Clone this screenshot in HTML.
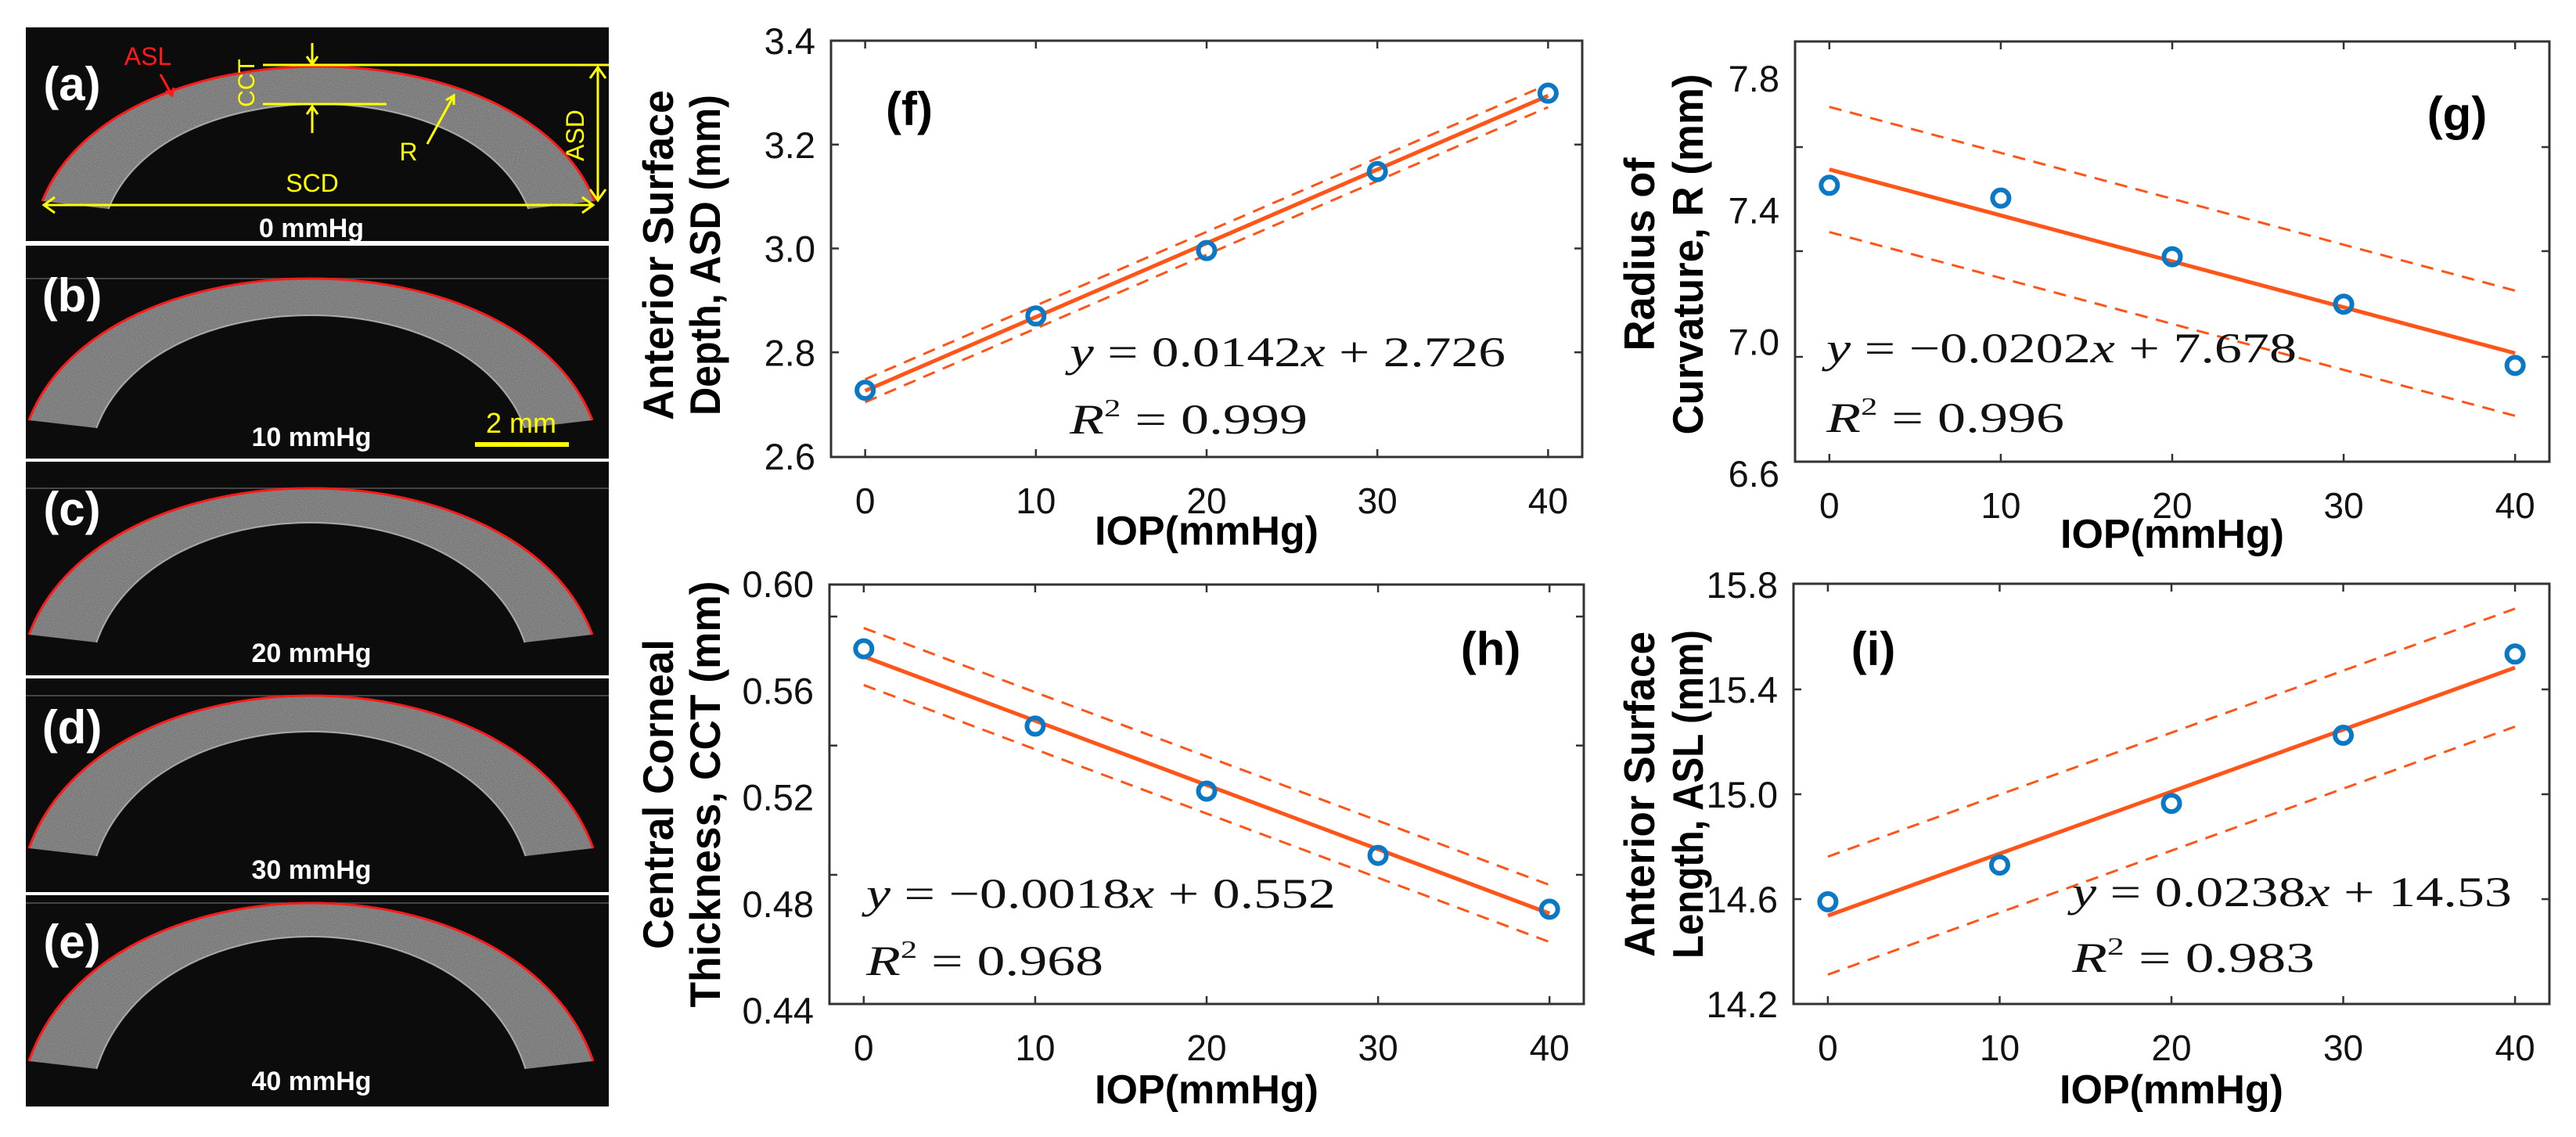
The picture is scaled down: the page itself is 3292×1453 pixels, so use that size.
<!DOCTYPE html>
<html><head><meta charset="utf-8">
<style>
html,body{margin:0;padding:0;background:#fff;}
svg{display:block;}
</style></head>
<body>
<svg id="fig" xmlns="http://www.w3.org/2000/svg" width="3292" height="1453" viewBox="0 0 3292 1453">
<defs>
<filter id="speck" x="0" y="0" width="100%" height="100%">
<feTurbulence type="fractalNoise" baseFrequency="0.9" numOctaves="1" seed="3" result="n"/>
<feColorMatrix in="n" type="matrix" values="0 0 0 0 0.55  0 0 0 0 0.55  0 0 0 0 0.55  0 0 0 1.6 -0.5" result="m"/>
<feComposite in="m" in2="SourceGraphic" operator="in"/>
</filter>
</defs>
<rect width="3292" height="1453" fill="#fff"/>
<g id="oct"></g>
<g id="charts"></g>
</svg>
<script>
// ---------- chart data ----------
const iopValues = [0, 10, 20, 30, 40];
const xTickLabels = ["0", "10", "20", "30", "40"];
const asdValues = [2.727, 2.870, 2.996, 3.148, 3.299];
const radiusValues = [7.475, 7.436, 7.258, 7.114, 6.928];
const cctValues = [0.5756, 0.5466, 0.5222, 0.4981, 0.4779];
const aslValues = [14.59, 14.73, 14.965, 15.225, 15.535];
const asdTickLabels = ["3.4", "3.2", "3.0", "2.8", "2.6"];
const radiusTickLabels = ["7.8", "7.4", "7.0", "6.6"];
const cctTickLabels = ["0.60", "0.56", "0.52", "0.48", "0.44"];
const aslTickLabels = ["15.8", "15.4", "15.0", "14.6", "14.2"];
const asdTickMarks = [3.2, 3.0, 2.8];
const radiusTickMarks = [7.591, 7.275, 6.954];
const cctTickMarks = [0.5877, 0.5393, 0.4908];
const aslTickMarks = [15.4, 15.0, 14.6];
// fit lines: [intercept, slope], band half-width
const asdFit = [2.726, 0.0142];
const radiusFit = [7.523, -0.01395];
const cctFit = [0.5727, -0.00241];
const aslFit = [14.537, 0.02365];
const asdBand = [0.022];
const radiusBand = [0.19];
const cctBand = [0.0107];
const aslBand = [0.225];

const NS = "http://www.w3.org/2000/svg";
function mk(tag, attrs, parent, txt) {
  const e = document.createElementNS(NS, tag);
  for (const k in attrs) e.setAttribute(k, attrs[k]);
  if (txt !== undefined) e.textContent = txt;
  parent.appendChild(e);
  return e;
}
const ORANGE = "#FF5519", BLUE = "#0A78C4", AX = "#333";

const panels = [
  {id:"f", L:1062, R:2022, T:52, B:584, v0:3.4, p0:52, v1:2.6, p1:583,
   vals:asdValues, labels:asdTickLabels, labVals:[3.4,3.2,3.0,2.8,2.6], ticks:asdTickMarks, fit:asdFit, band:asdBand,
   title:["Anterior Surface","Depth, ASD (mm)"], tx:[860,920], tlen:[422,410], tcy:326,
   tag:"(f)", tagX:1162, tagY:160, eq:"y = 0.0142x + 2.726", eqX:1367, eqY:468, eqW:557, r2:"0.999", r2Y:554, r2W:304, xlabY:696},
  {id:"g", L:2294, R:3258, T:53, B:590, v0:7.8, p0:100, v1:6.6, p1:605,
   vals:radiusValues, labels:radiusTickLabels, labVals:[7.8,7.4,7.0,6.6], ticks:radiusTickMarks, fit:radiusFit, band:radiusBand,
   title:["Radius of","Curvature, R (mm)"], tx:[2114,2176], tlen:[247,461], tcy:325,
   tag:"(g)", tagX:3140, tagY:166, eq:"y = \u22120.0202x + 7.678", eqX:2334, eqY:463, eqW:601, r2:"0.996", r2Y:552, r2W:304, xlabY:700},
  {id:"h", L:1060, R:2024, T:747, B:1283, v0:0.60, p0:746, v1:0.44, p1:1291,
   vals:cctValues, labels:cctTickLabels, labVals:[0.60,0.56,0.52,0.48,0.44], ticks:cctTickMarks, fit:cctFit, band:cctBand,
   title:["Central Corneal","Thickness, CCT (mm)"], tx:[860,920], tlen:[396,545], tcy:1015,
   tag:"(h)", tagX:1905, tagY:850, eq:"y = \u22120.0018x + 0.552", eqX:1107, eqY:1160, eqW:600, r2:"0.968", r2Y:1246, r2W:303, xlabY:1410},
  {id:"i", L:2292, R:3258, T:746, B:1283, v0:15.8, p0:747, v1:14.2, p1:1283,
   vals:aslValues, labels:aslTickLabels, labVals:[15.8,15.4,15.0,14.6,14.2], ticks:aslTickMarks, fit:aslFit, band:aslBand,
   title:["Anterior Surface","Length, ASL (mm)"], tx:[2114,2176], tlen:[416,420], tcy:1015,
   tag:"(i)", tagX:2394, tagY:850, eq:"y = 0.0238x + 14.53", eqX:2648, eqY:1158, eqW:562, r2:"0.983", r2Y:1242, r2W:310, xlabY:1410}
];

const charts = document.getElementById("charts");
panels.forEach(p => {
  const g = mk("g", {}, charts);
  
  
  const xs = v => p.L + (v + 2) / 44 * (p.R - p.L);
  const ys = v => p.p0 + (v - p.v0) / (p.v1 - p.v0) * (p.p1 - p.p0);
  const box = mk("rect", {x:p.L, y:p.T, width:p.R-p.L, height:p.B-p.T, fill:"none", stroke:AX, "stroke-width":3}, g);
  
  
  iopValues.forEach((v, i) => {
    const x = xs(v);
    mk("line", {x1:x, x2:x, y1:p.B, y2:p.B-10, stroke:AX, "stroke-width":2.5}, g);
    mk("line", {x1:x, x2:x, y1:p.T, y2:p.T+10, stroke:AX, "stroke-width":2.5}, g);
    const t = mk("text", {x:x, y:p.B+72, "text-anchor":"middle", "font-family":"Liberation Sans, sans-serif", "font-size":46, fill:"#111"}, g, xTickLabels[i]);
    
    
  });
  p.ticks.forEach(v => {
    const y = ys(v);
    mk("line", {x1:p.L, x2:p.L+10, y1:y, y2:y, stroke:AX, "stroke-width":2.5}, g);
    mk("line", {x1:p.R, x2:p.R-10, y1:y, y2:y, stroke:AX, "stroke-width":2.5}, g);
  });
  p.labels.forEach((s, i) => {
    const t = mk("text", {x:p.L-20, y:ys(p.labVals[i])+17, "text-anchor":"end", "font-family":"Liberation Sans, sans-serif", "font-size":47, fill:"#111"}, g, s);
    
    
  });
  const xl = mk("text", {x:(p.L+p.R)/2, y:p.xlabY, "text-anchor":"middle", "font-family":"Liberation Sans, sans-serif", "font-weight":"bold", "font-size":52, fill:"#000"}, g, "IOP(mmHg)");
  
  
  p.title.forEach((s, i) => {
    const t = mk("text", {x:0, y:0, transform:`translate(${p.tx[i]},${p.tcy}) rotate(-90)`, "text-anchor":"middle", "font-family":"Liberation Sans, sans-serif", "font-weight":"bold", "font-size":55, fill:"#000", textLength:p.tlen[i], lengthAdjust:"spacingAndGlyphs"}, g, s);
    
    
  });
  const x0 = iopValues[0], x1 = iopValues[iopValues.length-1];
  const f = x => p.fit[0] + p.fit[1]*x;
  [-1, 1].forEach(sgn => {
    const d = mk("line", {x1:xs(x0), y1:ys(f(x0)+sgn*p.band[0]), x2:xs(x1), y2:ys(f(x1)+sgn*p.band[0]), stroke:ORANGE, "stroke-width":3, "stroke-dasharray":"16 11"}, g);
    
    
  });
  const fl = mk("line", {x1:xs(x0), y1:ys(f(x0)), x2:xs(x1), y2:ys(f(x1)), stroke:ORANGE, "stroke-width":5}, g);
  
  
  p.vals.forEach((v, i) => {
    const c = mk("circle", {cx:xs(iopValues[i]), cy:ys(v), r:10.5, fill:"none", stroke:BLUE, "stroke-width":6}, g);
    
    
  });
  const tg = mk("text", {x:p.tagX, y:p.tagY, "text-anchor":"middle", "font-family":"Liberation Sans, sans-serif", "font-weight":"bold", "font-size":60, fill:"#000"}, g, p.tag);
  
  
  const eq = mk("text", {x:p.eqX, y:p.eqY, "font-family":"Liberation Serif, serif", "font-size":54, fill:"#111", textLength:p.eqW, lengthAdjust:"spacingAndGlyphs"}, g);
  
  
  const parts = p.eq.split("x");
  mk("tspan", {"font-style":"italic"}, eq, "y");
  mk("tspan", {}, eq, parts[0].slice(1).replace("=", " = "));
  mk("tspan", {"font-style":"italic"}, eq, "x");
  mk("tspan", {}, eq, parts[1]);
  const r2 = mk("text", {x:p.eqX, y:p.r2Y, "font-family":"Liberation Serif, serif", "font-size":54, fill:"#111", textLength:p.r2W, lengthAdjust:"spacingAndGlyphs"}, g);
  
  
  mk("tspan", {"font-style":"italic"}, r2, "R");
  mk("tspan", {"font-size":32, dy:-22}, r2, "2");
  mk("tspan", {dy:22}, r2, "  =  " + p.r2);
});

// ---------- OCT images ----------
const oct = document.getElementById("oct");
const frames = [
  {k:"a", top:35, bot:308, apex:85, endY:257, inApex:133, L:54, R:760, lab:"0 mmHg", labY:303, tagY:128},
  {k:"b", top:314, bot:586, apex:356, endY:537, inApex:403, L:37, R:757, lab:"10 mmHg", labY:570, tagY:398},
  {k:"c", top:590, bot:863, apex:624, endY:811, inApex:668, L:37, R:757, lab:"20 mmHg", labY:846, tagY:671},
  {k:"d", top:867, bot:1140, apex:889, endY:1084, inApex:935, L:37, R:758, lab:"30 mmHg", labY:1123, tagY:950},
  {k:"e", top:1144, bot:1414, apex:1154, endY:1356, inApex:1197, L:37, R:758, lab:"40 mmHg", labY:1393, tagY:1224}
];
function dome(L, R, yE, yA) {
  const W = R - L, H = (yE - yA) / 0.75;
  return `M${L},${yE} C${L+0.13*W},${yE-H} ${R-0.13*W},${yE-H} ${R},${yE}`;
}
frames.forEach(fr => {
  const g = mk("g", {}, oct);
  
  
  mk("rect", {x:33, y:fr.top, width:745, height:fr.bot-fr.top, fill:"#0c0c0c"}, g);
  if (fr.k !== "a") mk("line", {x1:33, x2:778, y1:fr.apex, y2:fr.apex, stroke:"#444", "stroke-width":2}, g);
  const W = fr.R - fr.L;
  const iL = fr.L + 0.12*W, iR = fr.R - 0.12*W;
  const outer = dome(fr.L, fr.R, fr.endY, fr.apex);
  const inner = dome(iL, iR, fr.endY + 10, fr.inApex);
  const H2 = (fr.endY + 10 - fr.inApex)/0.75, Wi = iR - iL;
  const band = outer + ` L${iR},${fr.endY+10} C${iR-0.13*Wi},${fr.endY+10-H2} ${iL+0.13*Wi},${fr.endY+10-H2} ${iL},${fr.endY+10} Z`;
  mk("path", {d:band, fill:"#747474"}, g);
  mk("path", {d:band, fill:"#fff", filter:"url(#speck)", opacity:0.5}, g);
  mk("path", {d:inner, fill:"none", stroke:"#cfcfcf", "stroke-width":2, opacity:0.7}, g);
  const red = mk("path", {d:outer, fill:"none", stroke:"#ff1a1a", "stroke-width":3}, g);
  
  
  const t = mk("text", {x:92, y:fr.tagY, "text-anchor":"middle", "font-family":"Liberation Sans, sans-serif", "font-weight":"bold", "font-size":60, fill:"#fff"}, g, "(" + fr.k + ")");
  
  
  const p = mk("text", {x:398, y:fr.labY, "text-anchor":"middle", "font-family":"Liberation Sans, sans-serif", "font-weight":"bold", "font-size":34, fill:"#fff"}, g, fr.lab);
  
  
});
const an = mk("g", {stroke:"#ffff00", "stroke-width":3, fill:"none"}, oct);


mk("line", {x1:336, y1:83, x2:778, y2:83}, an);
mk("line", {x1:336, y1:133, x2:494, y2:133}, an);
mk("line", {x1:764, y1:86, x2:764, y2:256}, an);
mk("path", {d:"M754,100 L764,86 L774,100 M754,242 L764,256 L774,242"}, an);
mk("line", {x1:56, y1:262, x2:758, y2:262}, an);
mk("path", {d:"M70,252 L56,262 L70,272 M744,252 L758,262 L744,272"}, an);
mk("line", {x1:399, y1:55, x2:399, y2:82}, an);
mk("path", {d:"M392,72 L399,82 L406,72"}, an);
mk("line", {x1:399, y1:136, x2:399, y2:170}, an);
mk("path", {d:"M392,146 L399,136 L406,146"}, an);
mk("line", {x1:546, y1:184, x2:580, y2:122}, an);
mk("path", {d:"M570,128 L580,122 L580,134"}, an);
mk("line", {x1:607, y1:568, x2:727, y2:568, "stroke-width":6}, an);
const ra = mk("g", {stroke:"#ff1a1a", "stroke-width":3, fill:"none"}, oct);
mk("line", {x1:205, y1:95, x2:220, y2:122}, ra);
mk("path", {d:"M212,116 L220,122 L222,112"}, ra);
function ytext(s, x, y, rot, col, size, name) {
  const t = mk("text", {x:0, y:0, transform:`translate(${x},${y})` + (rot ? " rotate(-90)" : ""), "text-anchor":"middle", "font-family":"Liberation Sans, sans-serif", "font-size":size, fill:col}, oct, s);
  
  
}
ytext("ASL", 189, 83, false, "#ff1a1a", 32, "asl-annotation");
ytext("CCT", 325, 106, true, "#ffff00", 30, "cct-annotation");
ytext("ASD", 746, 173, true, "#ffff00", 32, "asd-annotation");
ytext("R", 522, 205, false, "#ffff00", 32, "r-annotation");
ytext("SCD", 399, 245, false, "#ffff00", 32, "scd-annotation");
ytext("2 mm", 666, 553, false, "#ffff00", 36, "scale-bar-label");
</script>
</body></html>
